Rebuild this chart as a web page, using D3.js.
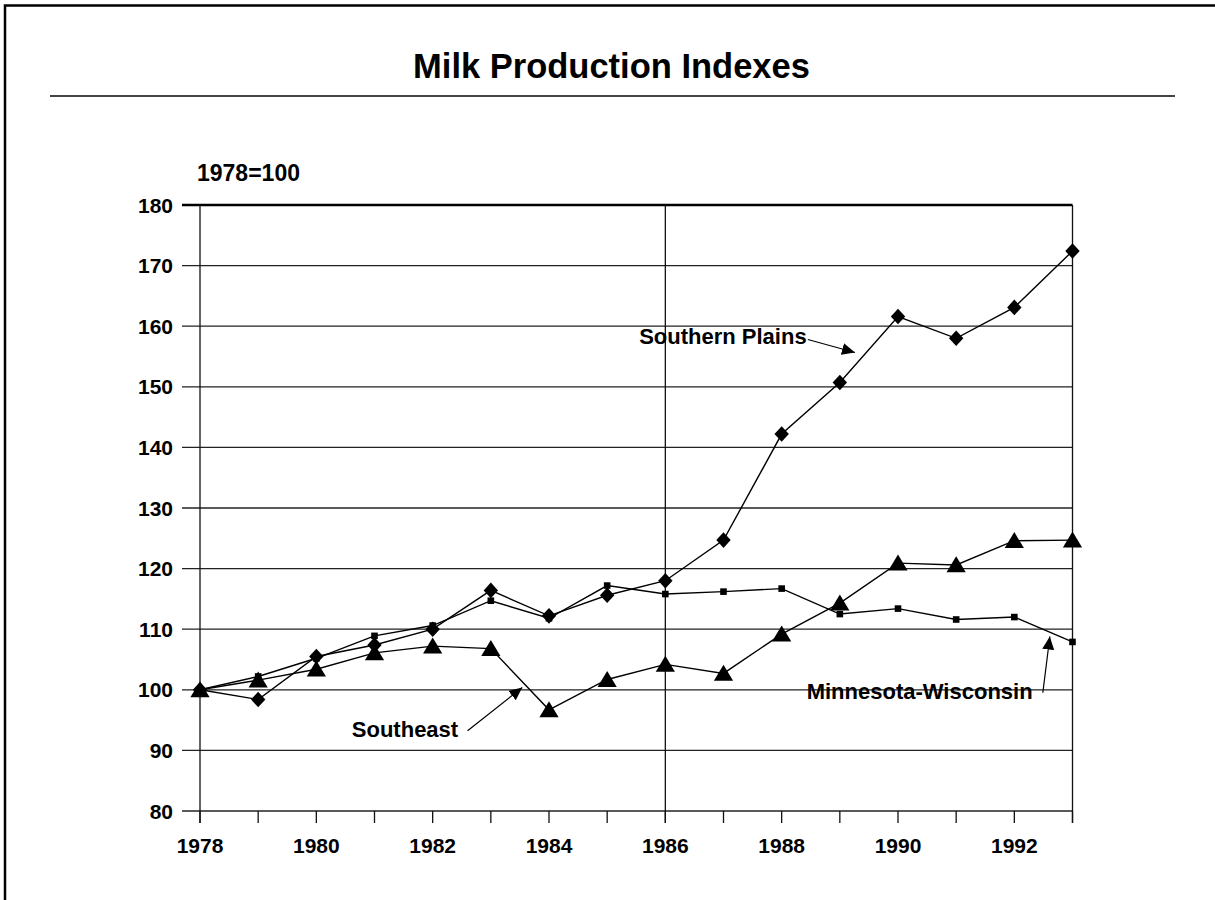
<!DOCTYPE html>
<html>
<head>
<meta charset="utf-8">
<script src="https://cdn.jsdelivr.net/npm/d3@7/dist/d3.min.js"></script>
<style>
  body { margin: 0; background: #fff; }
  text { font-family: "Liberation Sans", Arial, sans-serif; font-weight: bold; fill: #000; }
</style>
</head>
<body>
<div id="chart"></div>
<script>
// values (index, 1978=100)
var years = [1978, 1979, 1980, 1981, 1982, 1983, 1984, 1985, 1986, 1987, 1988, 1989, 1990, 1991, 1992, 1993];
var southernPlains = [100, 98.4, 105.5, 107.4, 110.0, 116.4, 112.2, 115.6, 118.0, 124.7, 142.2, 150.7, 161.6, 158.0, 163.1, 172.4];
var minnesotaWisconsin = [100, 102.2, 105.2, 108.9, 110.6, 114.7, 111.8, 117.2, 115.8, 116.2, 116.7, 112.5, 113.4, 111.6, 112.0, 107.9];
var southeast = [100, 101.6, 103.4, 106.1, 107.2, 106.8, 96.7, 101.7, 104.2, 102.7, 109.2, 114.3, 120.9, 120.6, 124.6, 124.7];
var yTicks = [80, 90, 100, 110, 120, 130, 140, 150, 160, 170, 180];
var xTickLabels = [1978, 1980, 1982, 1984, 1986, 1988, 1990, 1992];

var layout = { width: 1215, height: 900, left: 200, right: 1072.5, top: 205, bottom: 811 };

var svg = d3.select("#chart").append("svg")
    .attr("width", layout.width)
    .attr("height", layout.height);

var x = d3.scaleLinear().domain([1978, 1993]).range([layout.left, layout.right]);
var y = d3.scaleLinear().domain([80, 180]).range([layout.bottom, layout.top]);

// page frame (top and left edges only)
svg.append("path")
    .attr("d", "M5,900 L5,5.5 L1215,5.5")
    .attr("fill", "none")
    .attr("stroke", "#000")
    .attr("stroke-width", 2.5);

// title + rule
svg.append("text")
    .attr("x", 611.5)
    .attr("y", 78)
    .attr("text-anchor", "middle")
    .style("font-size", "34.5px")
    .text("Milk Production Indexes");
svg.append("line")
    .attr("x1", 50).attr("x2", 1175)
    .attr("y1", 96).attr("y2", 96)
    .attr("stroke", "#444")
    .attr("stroke-width", 1.8);

svg.append("text")
    .attr("x", 197)
    .attr("y", 181)
    .style("font-size", "23px")
    .text("1978=100");

// horizontal gridlines with ticks out to the left
svg.append("g").selectAll("line.grid")
  .data(yTicks)
  .enter()
  .append("line")
    .attr("x1", layout.left - 18)
    .attr("x2", layout.right)
    .attr("y1", function(d) { return y(d); })
    .attr("y2", function(d) { return y(d); })
    .attr("stroke", function(d) { return d == 180 ? "#000" : "#222"; })
    .attr("stroke-width", function(d) { return d == 180 ? 2.5 : 1.3; });

svg.append("g").selectAll("text.ytick")
  .data(yTicks)
  .enter()
  .append("text")
    .attr("x", 173)
    .attr("y", function(d) { return y(d); })
    .attr("dy", "0.36em")
    .attr("text-anchor", "end")
    .style("font-size", "21px")
    .text(function(d) { return d; });

// vertical lines: left axis, 1986 marker line, right edge
[1978, 1986, 1993].forEach(function(yr) {
  svg.append("line")
      .attr("x1", x(yr)).attr("x2", x(yr))
      .attr("y1", layout.top).attr("y2", layout.bottom + 12)
      .attr("stroke", "#111")
      .attr("stroke-width", 1.3);
});

// year ticks below axis
svg.append("g").selectAll("line.xtick")
  .data(years)
  .enter()
  .append("line")
    .attr("x1", function(d) { return x(d); })
    .attr("x2", function(d) { return x(d); })
    .attr("y1", layout.bottom)
    .attr("y2", layout.bottom + 12)
    .attr("stroke", "#111")
    .attr("stroke-width", 1.3);

svg.append("g").selectAll("text.xtick")
  .data(xTickLabels)
  .enter()
  .append("text")
    .attr("x", function(d) { return x(d); })
    .attr("y", 853)
    .attr("text-anchor", "middle")
    .style("font-size", "21px")
    .text(function(d) { return d; });

// series
var series = [
  { name: "Minnesota-Wisconsin", values: minnesotaWisconsin, shape: "M-3.3,-3.3 L3.3,-3.3 L3.3,3.3 L-3.3,3.3 Z" },
  { name: "Southern Plains", values: southernPlains, shape: "M0,-7.8 L7.2,0 L0,7.8 L-7.2,0 Z" },
  { name: "Southeast", values: southeast, shape: "M0,-8.6 L9.6,7.4 L-9.6,7.4 Z" }
];

var line = d3.line()
    .x(function(d, i) { return x(years[i]); })
    .y(function(d) { return y(d); });

series.forEach(function(s) {
  svg.append("path")
      .attr("d", line(s.values))
      .attr("fill", "none")
      .attr("stroke", "#000")
      .attr("stroke-width", 1.4);
});

series.forEach(function(s) {
  svg.append("g").selectAll("path.mark")
    .data(s.values)
    .enter()
    .append("path")
      .attr("d", s.shape)
      .attr("transform", function(d, i) {
        return "translate(" + x(years[i]) + "," + y(d) + ")";
      })
      .attr("fill", "#000");
});

// labels with arrows, placed in data units
var defs = svg.append("defs");
defs.append("marker")
    .attr("id", "arrow")
    .attr("viewBox", "0 0 13 12")
    .attr("refX", 13)
    .attr("refY", 6)
    .attr("markerWidth", 13)
    .attr("markerHeight", 12)
    .attr("markerUnits", "userSpaceOnUse")
    .attr("orient", "auto")
  .append("path")
    .attr("d", "M0,0 L13,6 L0,12 Z")
    .attr("fill", "#000");

var labelNames = ["Southern Plains", "Southeast", "Minnesota-Wisconsin"];
var labelPos = [[1985.55, 157.06], [1980.61, 92.16], [1988.43, 98.43]];
var arrowFrom = [[1988.45, 157.8], [1982.6, 93.25], [1992.49, 99.52]];
var arrowTo = [[1989.26, 155.66], [1983.54, 100.38], [1992.61, 108.8]];

labelNames.forEach(function(name, i) {
  svg.append("text")
      .attr("x", x(labelPos[i][0]))
      .attr("y", y(labelPos[i][1]))
      .style("font-size", "22px")
      .text(name);
  svg.append("line")
      .attr("x1", x(arrowFrom[i][0]))
      .attr("y1", y(arrowFrom[i][1]))
      .attr("x2", x(arrowTo[i][0]))
      .attr("y2", y(arrowTo[i][1]))
      .attr("stroke", "#000")
      .attr("stroke-width", 1.2)
      .attr("marker-end", "url(#arrow)");
});
</script>
</body>
</html>
